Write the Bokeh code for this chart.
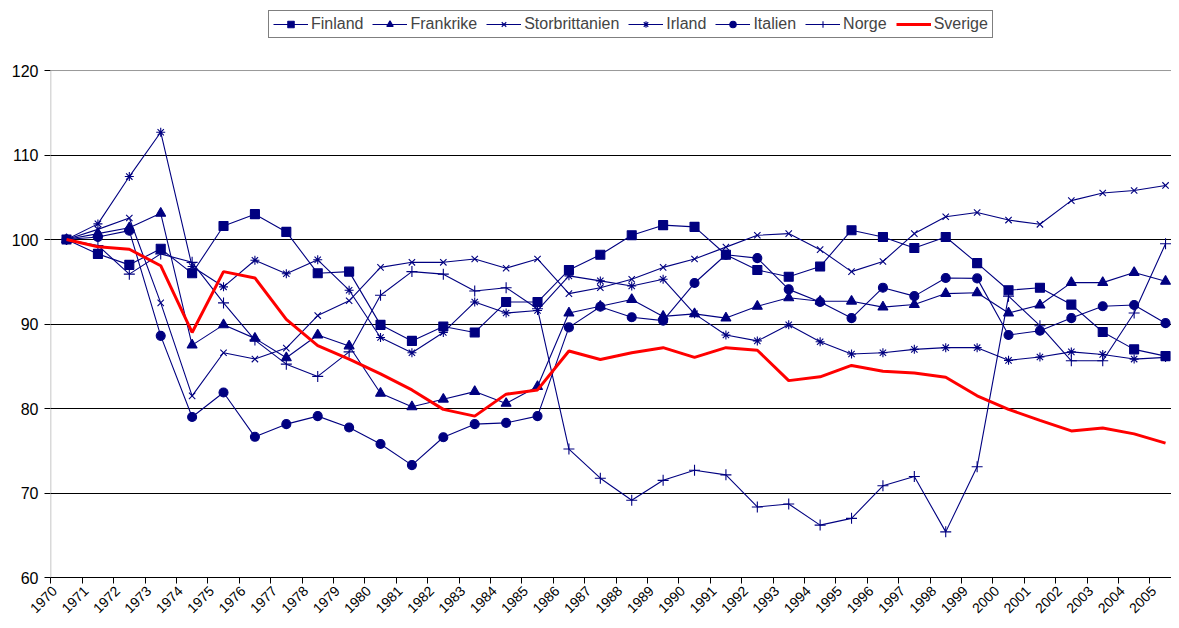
import math
from bokeh.plotting import figure
from bokeh.models import FixedTicker, Range1d, Legend, LegendItem, Span, BoxAnnotation
from bokeh.embed import file_html
from bokeh.resources import INLINE

years = list(range(1970, 2006))

finland = [100, 98.3, 97.0, 98.9, 96.0, 101.6, 103.0, 100.9, 96.0, 96.2,
           89.9, 88.0, 89.7, 89.0, 92.6, 92.6, 96.4, 98.2, 100.5, 101.7,
           101.5, 98.2, 96.4, 95.6, 96.8, 101.1, 100.3, 99.0, 100.3, 97.2,
           94.0, 94.3, 92.3, 89.05, 87.0, 86.2]
frankrike = [100, 100.7, 101.4, 103.1, 87.5, 89.9, 88.3, 86.0, 88.7, 87.4,
             81.8, 80.2, 81.1, 82.0, 80.6, 82.6, 91.3, 92.1, 92.9, 90.9,
             91.2, 90.7, 92.1, 93.1, 92.7, 92.7, 92.0, 92.3, 93.6, 93.7,
             91.3, 92.25, 94.9, 94.9, 96.1, 95.05]
storbrittanien = [100, 101.2, 102.55, 92.5, 81.5, 86.6, 85.85, 87.15, 91.0, 92.75,
                  96.7, 97.3, 97.3, 97.7, 96.6, 97.7, 93.6, 94.3, 95.3, 96.7,
                  97.7, 99.1, 100.5, 100.7, 98.8, 96.2, 97.4, 100.7, 102.7, 103.2,
                  102.3, 101.8, 104.6, 105.5, 105.8, 106.4]
irland = [100, 101.85, 107.45, 112.7, 96.8, 94.4, 97.55, 95.95, 97.6, 94.0,
          88.4, 86.6, 89.0, 92.6, 91.3, 91.6, 95.7, 95.1, 94.5, 95.3,
          91.2, 88.7, 88.0, 89.9, 87.9, 86.45, 86.6, 87.0, 87.2, 87.2,
          85.7, 86.1, 86.7, 86.4, 85.85, 86.05]
italien = [100, 100.3, 101.05, 88.6, 79.0, 81.9, 76.65, 78.15, 79.1, 77.75,
           75.8, 73.3, 76.6, 78.15, 78.3, 79.1, 89.6, 92.05, 90.8, 90.4,
           94.85, 98.2, 97.8, 94.1, 92.6, 90.7, 94.3, 93.3, 95.45, 95.4,
           88.7, 89.2, 90.7, 92.1, 92.25, 90.1]
norge = [100, 99.3, 95.9, 98.3, 97.3, 92.5, 88.1, 85.25, 83.8, 86.7,
         93.4, 96.2, 95.9, 93.9, 94.3, 91.8, 75.2, 71.75, 69.15, 71.5,
         72.7, 72.15, 68.35, 68.7, 66.2, 67.0, 70.85, 71.95, 65.4, 73.1,
         93.3, 89.8, 85.65, 85.65, 91.3, 99.5]
sverige = [100, 99.15, 98.85, 96.9, 89.0, 96.2, 95.45, 90.55, 87.45, 85.85,
           84.1, 82.2, 79.9, 79.1, 81.7, 82.2, 86.8, 85.8, 86.6, 87.2,
           86.05, 87.2, 86.9, 83.3, 83.75, 85.1, 84.4, 84.2, 83.7, 81.5,
           79.9, 78.6, 77.35, 77.7, 77.0, 75.9]

year_labels = [str(y) for y in years]
y_ticks = [60, 70, 80, 90, 100, 110, 120]

series = [
    ("Finland", finland, "square", 9),
    ("Frankrike", frankrike, "triangle", 10),
    ("Storbrittanien", storbrittanien, "x", 9),
    ("Irland", irland, "asterisk", 9),
    ("Italien", italien, "circle", 9),
    ("Norge", norge, "cross", 11),
]

FONT = "Liberation Sans"
NAVY = "#000080"
X0, X1 = 1969.49, 2005.19
Y0, Y_TOP = 60, 127.34   # frame extends above 120 to hold the legend

p = figure(width=1171, height=620, output_backend="svg", toolbar_location=None,
           x_range=Range1d(X0, X1), y_range=Range1d(Y0, Y_TOP),
           min_border_left=50, min_border_right=0, min_border_top=8,
           min_border_bottom=43)
p.outline_line_color = None
p.background_fill_color = "white"

# x axis: tick marks at category boundaries, labels shifted left of each category
label_pos = [y - 0.38 for y in years]
p.xaxis.ticker = FixedTicker(ticks=label_pos,
                             minor_ticks=[y - 0.5 for y in years] + [years[-1] + 0.5])
p.xaxis.major_label_overrides = {lp: lab for lp, lab in zip(label_pos, year_labels)}
p.xaxis.major_tick_line_color = None
p.xaxis.major_tick_in = 0
p.xaxis.major_tick_out = 0
p.xaxis.minor_tick_in = 0
p.xaxis.minor_tick_out = 6
p.xaxis.minor_tick_line_color = "black"
p.xaxis.major_label_orientation = math.pi / 4
p.xaxis.major_label_standoff = 5
p.xaxis.major_label_text_font = FONT
p.xaxis.major_label_text_font_size = "14px"
p.xaxis.major_label_text_color = "black"
p.xaxis.axis_line_color = "black"

p.yaxis.ticker = FixedTicker(ticks=y_ticks)
p.yaxis.major_tick_in = 0
p.yaxis.major_tick_out = 6
p.yaxis.minor_tick_line_color = None
p.yaxis.major_tick_line_color = "black"
p.yaxis.major_label_standoff = 6
p.yaxis.major_label_text_font = FONT
p.yaxis.major_label_text_font_size = "16px"
p.yaxis.major_label_text_color = "black"
p.yaxis.axis_line_color = None
# visible y-axis line only over the 60-120 span
p.add_layout(BoxAnnotation(left=X0, right=X0, bottom=y_ticks[0], top=y_ticks[-1],
                           fill_alpha=0, line_color="black", line_width=1.5))

p.xgrid.visible = False
p.ygrid.ticker = FixedTicker(ticks=y_ticks[1:-1])
p.ygrid.grid_line_color = "black"
p.ygrid.grid_line_width = 1
p.add_layout(Span(location=y_ticks[-1], dimension="width", line_color="#999999", line_width=1))

items = []
for name, vals, marker, size in series:
    r_line = p.line(years, vals, line_color=NAVY, line_width=1.1)
    r_pts = p.scatter(years, vals, marker=marker, size=size, fill_color=NAVY,
                      line_color=NAVY, line_width=1.1)
    items.append(LegendItem(label=name, renderers=[r_line, r_pts]))

r_sv = p.line(years, sverige, line_color="#FF0000", line_width=3)
items.append(LegendItem(label="Sverige", renderers=[r_sv]))

legend = Legend(items=items, orientation="horizontal", location=(218, 539),
                label_text_font=FONT, label_text_font_size="16px",
                glyph_width=35, glyph_height=16, label_standoff=3, spacing=9,
                padding=4, margin=0, border_line_color="black", border_line_width=1,
                background_fill_color="white", background_fill_alpha=1.0)
p.add_layout(legend, "center")

open("out.html", "w").write(file_html(p, INLINE))
